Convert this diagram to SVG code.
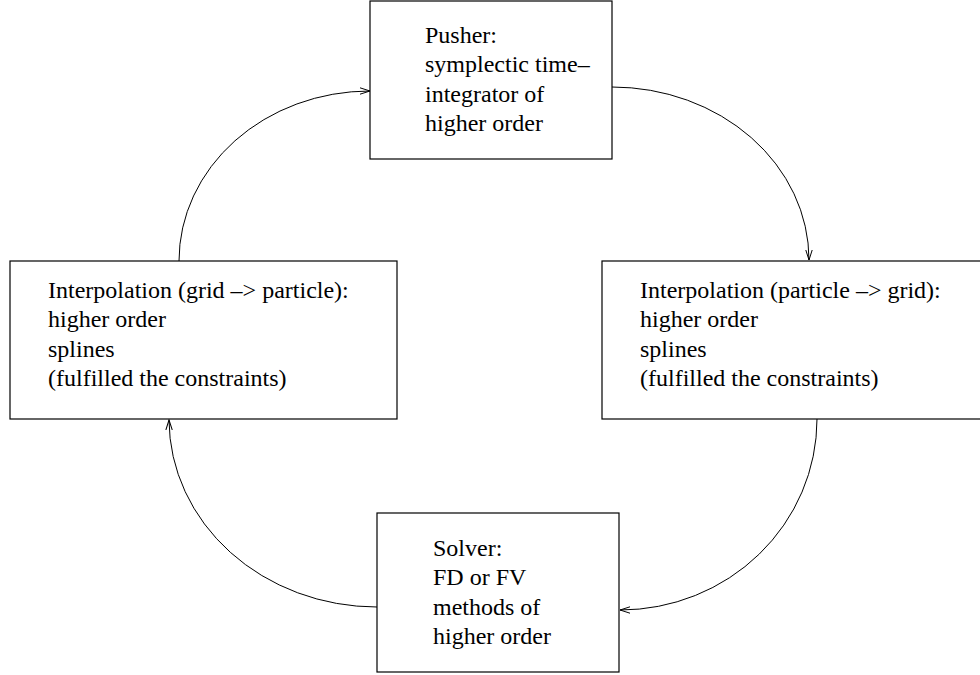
<svg xmlns="http://www.w3.org/2000/svg" width="980" height="675" viewBox="0 0 980 675">
<style>
.box{fill:#fff;stroke:#000;stroke-width:1.2}
.t{font-family:"Liberation Serif","Times New Roman",serif;font-size:24px;fill:#000}
.c{fill:none;stroke:#000;stroke-width:1}
</style>
<defs>
<marker id="ah" markerUnits="userSpaceOnUse" markerWidth="12" markerHeight="8" refX="10" refY="4" orient="auto">
<path d="M0,0.8 L10,4 L0,7.2" fill="none" stroke="#000" stroke-width="1"/>
</marker>
</defs>
<rect width="980" height="675" fill="#fff"/>
<g id="connectors">
<path class="c" d="M179,261 A191,170 0 0 1 370,91" marker-end="url(#ah)"/>
<path class="c" d="M612,87 A197,173 0 0 1 809,260" marker-end="url(#ah)"/>
<path class="c" d="M817,419 A197,191 0 0 1 620,610" marker-end="url(#ah)"/>
<path class="c" d="M377,607 A208,188 0 0 1 169,420" marker-end="url(#ah)"/>
</g>
<g id="pusher">
<rect class="box" x="370" y="1" width="242" height="158"/>
<text class="t" x="425" y="43">Pusher:</text>
<text class="t" x="425" y="72">symplectic time–</text>
<text class="t" x="425" y="102">integrator of</text>
<text class="t" x="425" y="131">higher order</text>
</g>
<g id="interp-left">
<rect class="box" x="10" y="261" width="387" height="158"/>
<text class="t" x="48" y="298">Interpolation (grid –&gt; particle):</text>
<text class="t" x="48" y="327">higher order</text>
<text class="t" x="48" y="357">splines</text>
<text class="t" x="48" y="386">(fulfilled the constraints)</text>
</g>
<g id="interp-right">
<rect class="box" x="602" y="261" width="385" height="158"/>
<text class="t" x="640" y="298">Interpolation (particle –&gt; grid):</text>
<text class="t" x="640" y="327">higher order</text>
<text class="t" x="640" y="357">splines</text>
<text class="t" x="640" y="386">(fulfilled the constraints)</text>
</g>
<g id="solver">
<rect class="box" x="377" y="513" width="242" height="159"/>
<text class="t" x="433" y="556">Solver:</text>
<text class="t" x="433" y="585">FD or FV</text>
<text class="t" x="433" y="615">methods of</text>
<text class="t" x="433" y="644">higher order</text>
</g>
</svg>
